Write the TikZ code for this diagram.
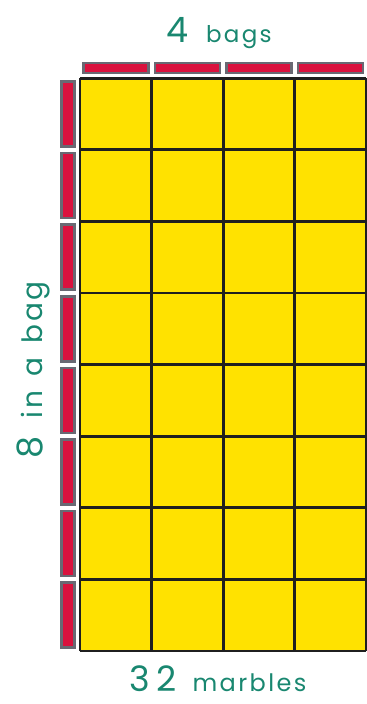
\documentclass[tikz,border=0pt]{standalone}
\usepackage{fontspec}
\newfontfamily\lblfont[LetterSpace=10]{Poppins}
\usepackage{tikz}
\definecolor{cubeyellow}{RGB}{255,226,0}
\definecolor{bagred}{RGB}{218,18,62}
\definecolor{baggray}{RGB}{105,105,115}
\definecolor{labelteal}{RGB}{25,135,112}
\newcommand{\numfont}{\fontsize{35}{37}\selectfont}
\newcommand{\wordfont}{\fontsize{23}{25}\selectfont}
\tikzset{
  bagbar/.style={draw=baggray, fill=bagred, line width=2.6pt},
  countlabel/.style={text=labelteal, font=\lblfont, inner sep=0pt, text depth=0pt}
}

\begin{document}
\begin{tikzpicture}[x=71.6pt, y=71.6pt]
  \useasboundingbox (-1.117,-0.740) rectangle (4.008,9.092);
  \coordinate (SW) at (0,0);
  \coordinate (NE) at (4,8);
  \fill[cubeyellow] (SW) rectangle (NE);
  \draw[line width=2.8pt, color=black!88, step=1] (SW) grid (NE);
  \foreach \i in {0,...,3}
    \draw[bagbar] (\i+0.045,8.07) rectangle (\i+0.955,8.21);
  \foreach \j in {0,...,7}
    \draw[bagbar] (-0.255,\j+0.045) rectangle (-0.08,\j+0.955);
  \node[countlabel, anchor=base] (bags) at (1.94,8.5) {{\numfont 4}\hspace{18pt}{\wordfont bags}};
  \node[countlabel, anchor=base] (marbles) at (1.93,-0.56) {{\numfont 3\hspace{6pt}2}\hspace{16pt}{\fontsize{24}{26}\selectfont marbles}};
  \node[countlabel, anchor=base, rotate=90] (perbag) at (-0.53,3.93) {{\numfont 8}\hspace{18pt}{\fontsize{28}{30}\selectfont in\hspace{14pt}a\hspace{14pt}bag}};
\end{tikzpicture}
\end{document}
